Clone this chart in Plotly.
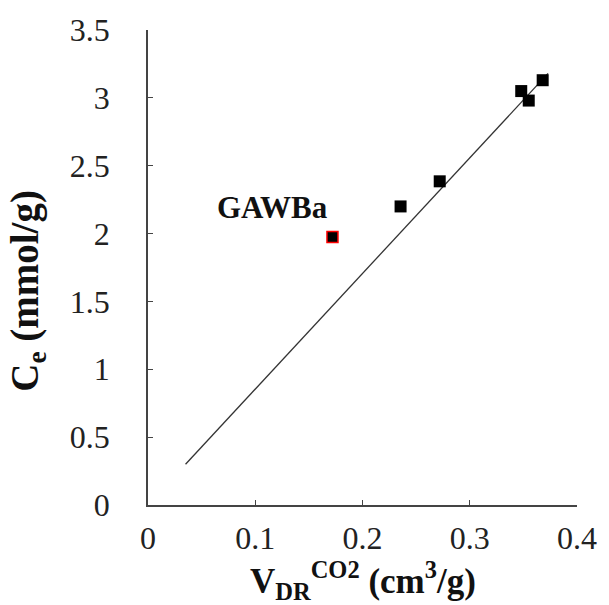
import plotly.graph_objects as go

# Data
vdr = [0.2355, 0.272, 0.348, 0.355, 0.368]
ce = [2.20, 2.385, 3.05, 2.98, 3.13]
gawba_x = [0.172]
gawba_y = [1.975]
fit_x = [0.035, 0.373]
fit_y = [0.30, 3.18]
x_ticks = [0, 0.1, 0.2, 0.3, 0.4]
y_ticks = [0, 0.5, 1, 1.5, 2, 2.5, 3, 3.5]
y_tick_labels = ["0", "0.5", "1", "1.5", "2", "2.5", "3", "3.5"]
x_tick_labels = ["0", "0.1", "0.2", "0.3", "0.4"]

FONT = "Liberation Serif, Times New Roman, serif"

fig = go.Figure()
fig.add_trace(go.Scatter(x=fit_x, y=fit_y, mode="lines",
                         line=dict(color="#333333", width=1.3),
                         showlegend=False, hoverinfo="skip"))
fig.add_trace(go.Scatter(x=vdr, y=ce, mode="markers",
                         marker=dict(symbol="square", size=12, color="black",
                                     line=dict(width=0)),
                         showlegend=False))
fig.add_trace(go.Scatter(x=gawba_x, y=gawba_y, mode="markers",
                         marker=dict(symbol="square", size=11, color="black",
                                     line=dict(width=1.5, color="red")),
                         showlegend=False))

fig.add_annotation(x=0.1165, y=2.19, xref="x", yref="y", text="<b>GAWBa</b>",
                   showarrow=False, font=dict(family=FONT, size=31, color="#111111"),
                   xanchor="center", yanchor="middle")

fig.add_annotation(x=-0.281, y=0.452, xref="paper", yref="paper",
                   text="<b>C<sub>e</sub> (mmol/g)</b>", textangle=-90,
                   showarrow=False, font=dict(family=FONT, size=39, color="#111111"),
                   xanchor="center", yanchor="middle")

fig.add_annotation(x=0.5, y=-0.158, xref="paper", yref="paper",
                   text="<b>V<sub>DR</sub><sup>CO2</sup> (cm<sup>3</sup>/g)</b>",
                   showarrow=False, font=dict(family=FONT, size=35, color="#111111"),
                   xanchor="center", yanchor="middle")

axis_common = dict(showgrid=False, zeroline=False, showline=True,
                   linecolor="#444444", linewidth=1.5, ticks="inside",
                   ticklen=5, tickwidth=1.2, tickcolor="#444444",
                   tickfont=dict(family=FONT, size=32, color="#222222"))

fig.update_xaxes(range=[0, 0.4], tickmode="array", tickvals=x_ticks,
                 ticktext=x_tick_labels, ticklabelstandoff=4, **axis_common)
fig.update_yaxes(range=[0, 3.5], tickmode="array", tickvals=y_ticks,
                 ticktext=y_tick_labels, ticklabelstandoff=30, **axis_common)

fig.update_layout(width=609, height=605,
                  margin=dict(l=148, r=23, t=27, b=100),
                  plot_bgcolor="white", paper_bgcolor="white")

fig.write_html("out.html",
               config={"displayModeBar": False},
               post_script="document.body.style.margin='0px';"
                           "document.documentElement.style.overflow='hidden';"
                           "document.body.style.overflow='hidden';")
